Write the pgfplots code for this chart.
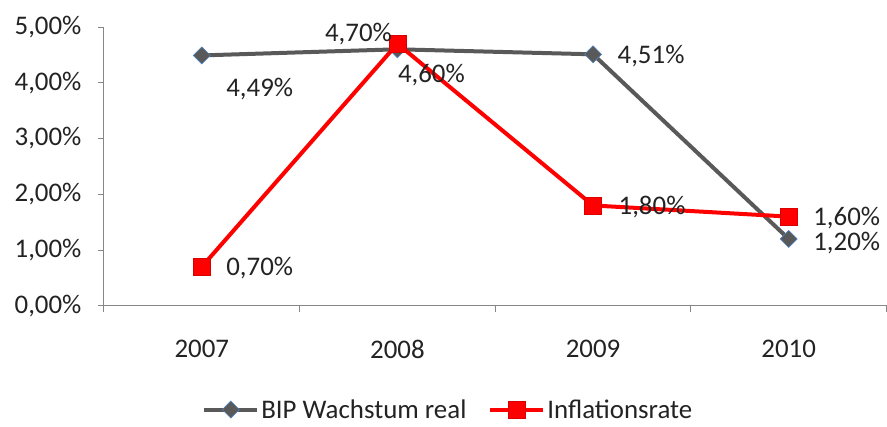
\documentclass[border=0pt]{standalone}
\usepackage{pgfplots}
\pgfplotsset{compat=1.18}
\usepackage{pgfplotstable}
\usepackage{fontspec}
\setmainfont{Carlito}
\definecolor{bipgray}{RGB}{89,89,89}
\definecolor{axgray}{RGB}{134,134,134}
\definecolor{txt}{RGB}{35,35,35}
\definecolor{edgeblue}{RGB}{79,129,189}
\pgfplotstableread{
x y dx dy
0 4.49 58 -34
1 4.60 34 -26
2 4.51 58 -2
3 1.20 58 -4
}\bip
\pgfplotstableread{
x y dx dy
0 0.70 58 -1
1 4.70 -39 10
2 1.80 59 -2
3 1.60 58 -1
}\infl
\begin{document}
\begin{tikzpicture}
\begin{axis}[
  scale only axis, width=783bp, height=279bp,
  xmin=-0.5, xmax=3.5, ymin=0, ymax=5,
  clip=false,
  axis x line*=bottom, axis y line*=left,
  axis line style={axgray, line width=0.9bp, -},
  font=\fontsize{27}{30}\selectfont, 
  every tick label/.append style={text=txt},
  /pgf/number format/assume math mode=true,
  xtick={0,1,2,3}, xticklabels={2007,2008,2009,2010},
  minor xtick={-0.5,0.5,1.5,2.5,3.5},
  major x tick style={draw=none},
  minor x tick style={axgray, line width=0.9bp},
  ytick={0,1,2,3,4,5},
  y tick style={axgray, line width=0.9bp},
  tick align=outside, major tick length=6bp, minor tick length=6bp,
  yticklabel={\pgfmathprintnumber[fixed,fixed zerofill,precision=2,use comma]{\tick}\%},
  xticklabel style={yshift=-25bp},
  yticklabel style={xshift=-13bp},
  legend style={at={(0.44,-0.372)}, anchor=center, draw=none, fill=none,
    legend columns=2, font=\fontsize{27}{30}\selectfont, text=txt,
    /tikz/every even column/.append style={column sep=20bp},
    inner sep=0pt, cells={anchor=west, text depth=0pt, inner sep=1bp}},
  legend image code/.code={\draw[mark repeat=2,mark phase=2] plot coordinates {(0bp,0bp)(26.5bp,0bp)(53bp,0bp)};},
  point meta=explicit,
  nodes near coords={\pgfmathprintnumber[fixed,fixed zerofill,precision=2,use comma]{\pgfplotspointmeta}\%},
  visualization depends on={\thisrow{dx} \as \lbldx},
  visualization depends on={\thisrow{dy} \as \lbldy},
  every node near coord/.append style={anchor=center, inner sep=0.5bp, xshift=\lbldx bp, yshift=\lbldy bp, text=txt, font=\fontsize{27}{30}\selectfont},
]
\coordinate (o) at (rel axis cs:0,0);
\addplot[bipgray, line width=4bp, mark=diamond*, mark size=8.5bp,
  mark options={fill=bipgray, draw=edgeblue, line width=0.6bp, xscale=1.33}]
  table[x=x, y=y, meta=y] {\bip};
\addlegendentry{BIP Wachstum real}
\addplot[red, line width=4bp, mark=square*, mark size=8.5bp,
  mark options={fill=red, draw=red!85!black, line width=0.6bp}]
  table[x=x, y=y, meta=y] {\infl};
\addlegendentry{Inflationsrate}
\end{axis}
\path (o) ++(-104bp,-121bp) rectangle ++(887bp,427bp);
\end{tikzpicture}
\end{document}
